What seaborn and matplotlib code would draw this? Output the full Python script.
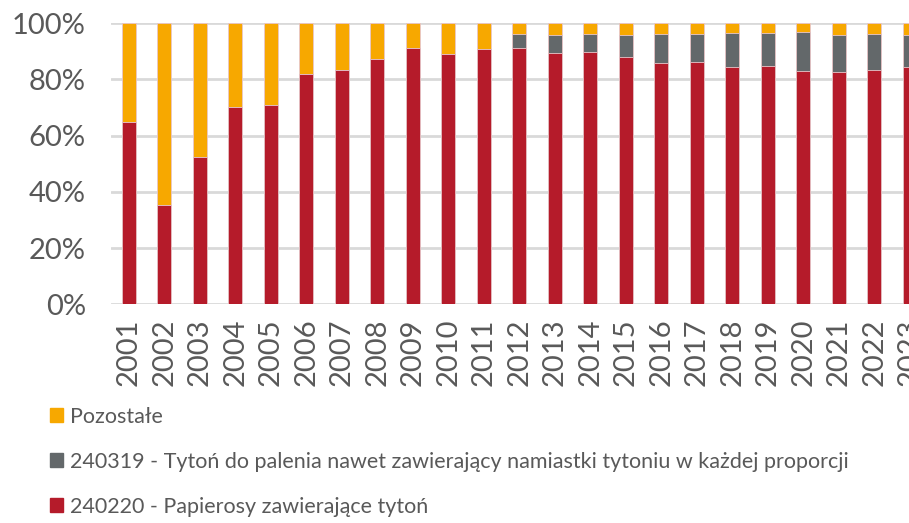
import numpy as np
import pandas as pd
import matplotlib
matplotlib.use("Agg")
import matplotlib.pyplot as plt
import matplotlib.patches as mpatches
import seaborn as sns

# -------------------------------
# Data (shares in %)
# -------------------------------
years = [str(y) for y in range(2001, 2024)]
papierosy = [64.8, 35.2, 52.3, 70.2, 70.9, 82.0, 83.4, 87.2, 91.2, 89.1, 90.7, 91.2,
             89.2, 89.8, 88.0, 85.9, 86.3, 84.5, 84.7, 83.0, 82.5, 83.2, 84.5]
tyton = [0.0, 0.0, 0.0, 0.0, 0.0, 0.0, 0.0, 0.0, 0.0, 0.0, 0.0, 5.0,
         6.6, 6.4, 7.8, 10.3, 9.9, 12.1, 11.9, 13.7, 13.3, 13.0, 11.3]
pozostale = [100 - a - b for a, b in zip(papierosy, tyton)]

labels = ["Pozostałe",
          "240319 - Tytoń do palenia nawet zawierający namiastki tytoniu w każdej proporcji",
          "240220 - Papierosy zawierające tytoń"]
colors = ["#F7A800", "#63686A", "#B51B2A"]

df = pd.DataFrame({"year": years, "red": papierosy, "gray": tyton, "orange": pozostale})
df["gray_top"] = df["red"] + df["gray"]
df["orange_top"] = df["gray_top"] + df["orange"]

# -------------------------------
# Plot
# -------------------------------
sns.set_style("white")
plt.rcParams["font.family"] = ["Lato", "DejaVu Sans"]

fig = plt.figure(figsize=(9.09, 5.23), dpi=100)
ax = fig.add_axes([111 / 909, 218.7 / 523, 816.5 / 909, 281.3 / 523])

for col, c in [("orange_top", colors[0]), ("gray_top", colors[1]), ("red", colors[2])]:
    sns.barplot(data=df, x="year", y=col, color=c, width=0.39, ax=ax,
                saturation=1, edgecolor="#E8C7CB", linewidth=0.6)

ax.set_xlim(-0.5, len(years) - 0.5)
ax.set_ylim(0, 100)
ax.set_yticks(range(0, 101, 20))
ax.set_yticklabels([f"{v}%" for v in range(0, 101, 20)])
ax.yaxis.grid(True, color="#D9D9D9", linewidth=2)
ax.set_axisbelow(True)
for s in ax.spines.values():
    s.set_visible(False)
ax.set_xlabel("")
ax.set_ylabel("")
ax.tick_params(axis="x", rotation=90, pad=10, length=0, labelsize=21, labelcolor="#595959")
ax.tick_params(axis="y", pad=18, length=0, labelsize=21, labelcolor="#595959")

handles = [mpatches.Patch(color=c) for c in colors]
fig.legend(handles, labels, loc="upper left", bbox_to_anchor=(50 / 909, 1 - 407 / 523),
           frameon=False, fontsize=15.5, labelcolor="#595959",
           handlelength=0.62, handleheight=0.62, handletextpad=0.3,
           labelspacing=1.15, borderaxespad=0, borderpad=0)

fig.savefig("out.png", dpi=100)
